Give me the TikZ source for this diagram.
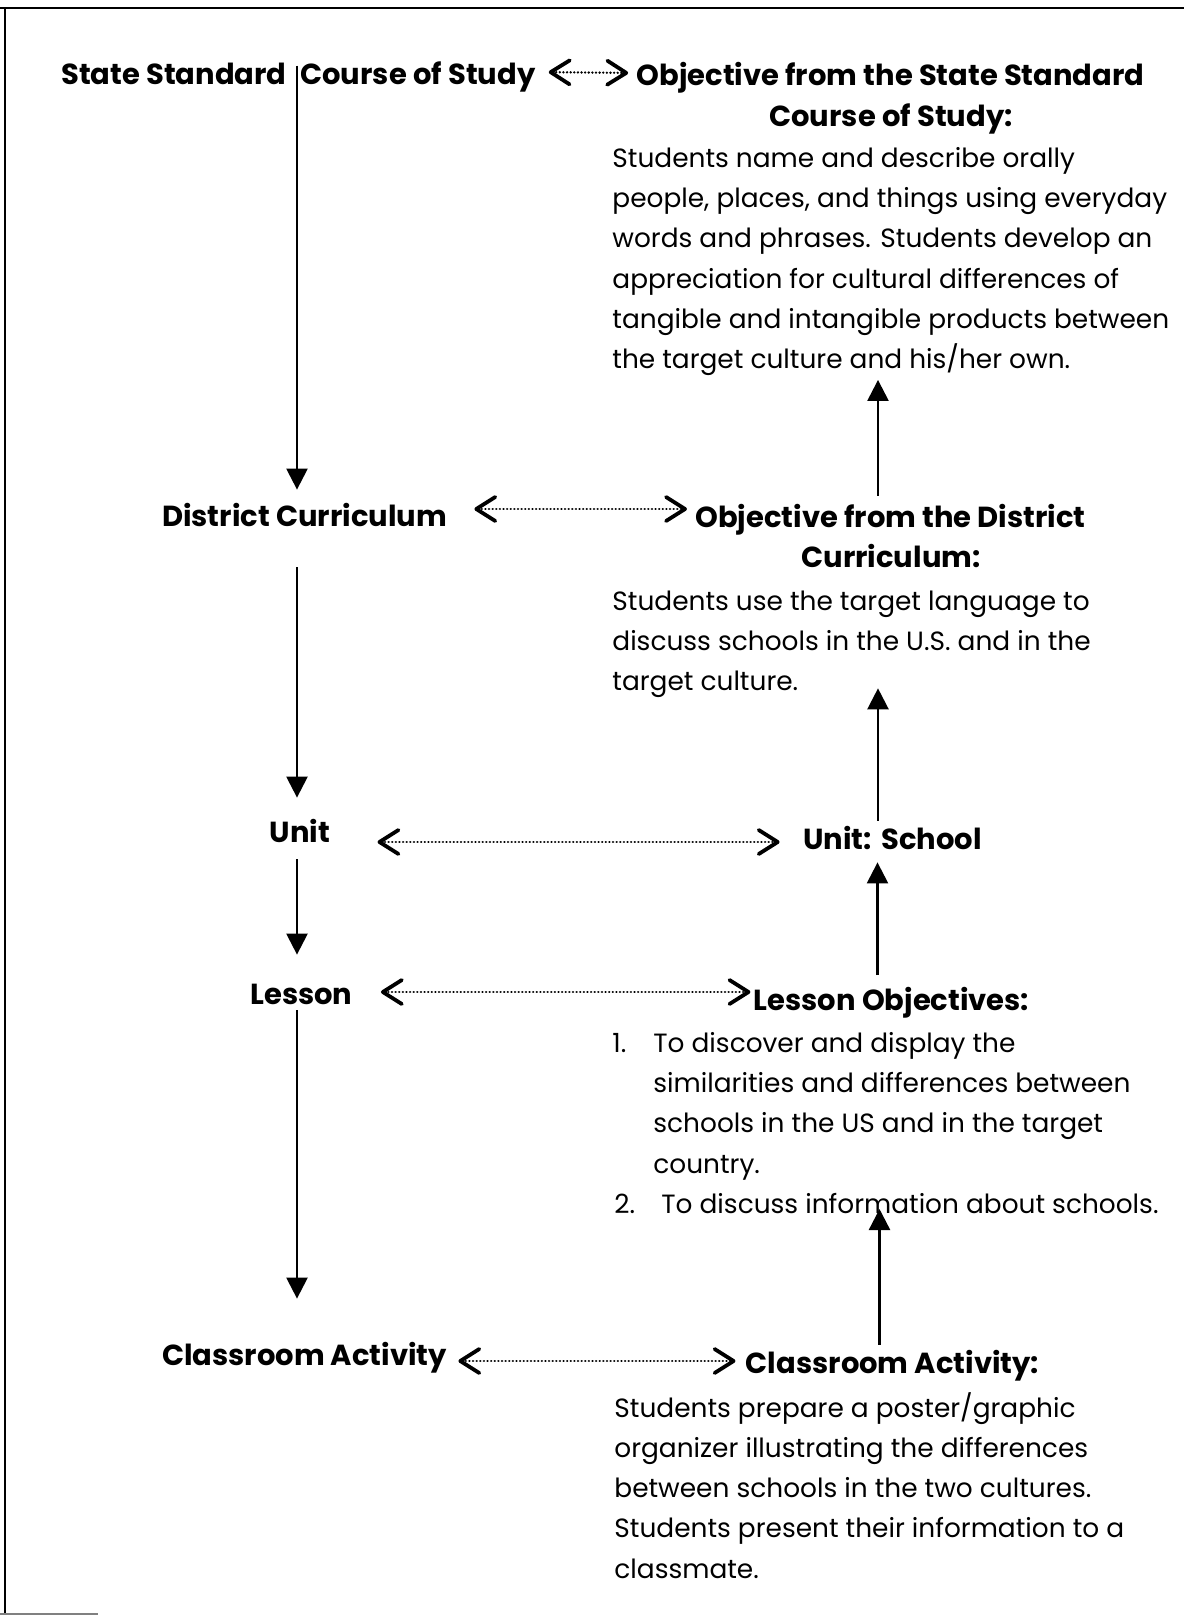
\documentclass[tikz,border=0pt]{standalone}
\usepackage{fontspec}
\setmainfont{Poppins}
\usetikzlibrary{arrows.meta}
% strut that fixes the top of the first line of a text block
\newcommand\fl{\rule{0pt}{11pt}}
\begin{document}
\begin{tikzpicture}[x=0.5pt,y=-0.5pt,
  lbl/.style={inner sep=0pt, text height=13pt, text depth=1pt,
    font=\fontsize{14.5}{17}\selectfont\bfseries},
  body/.style={inner sep=0pt, anchor=north west, align=left,
    font=\fontsize{13.2}{20.1}\selectfont},
  flow/.style={line width=1.2pt, -{Triangle[length=10.5pt,width=10.5pt]}},
  barb/.tip={Straight Barb[length=9.5pt,width=12pt,line width=1.9pt,round]},
  link/.style={line width=1.3pt, dash pattern=on 0.01pt off 1.8pt, line cap=round,
    barb-barb}]
\useasboundingbox (0,0) rectangle (1184,1618);

% frame
\draw[line width=1.4pt] (0,8) -- (1184,8);
\draw[line width=1.3pt] (5,7) -- (5,1613);
\draw[gray, line width=1pt] (0,1614) -- (98,1614);

% axis coordinates for the vertical arrows
\coordinate (spine) at (297,0);
\coordinate (rx) at (878,0);

% left column
\node[lbl, anchor=base east] (ssc1) at (287,84) {State Standard};
\node[lbl, anchor=base west] (ssc2) at (300,84) {Course of Study};
\node[lbl, anchor=base] (dc) at (304.5,526) {District Curriculum};
\node[lbl, anchor=base] (unit) at (300,842) {Unit};
\node[lbl, anchor=base] (lesson) at (301.5,1004) {Lesson};
\node[lbl, anchor=base] (ca) at (304.5,1365) {Classroom Activity};

% right column
\node[lbl, anchor=base] (h1a) at (890.5,85) {Objective from the State Standard};
\node[lbl, anchor=base] (h1b) at (891,126) {Course of Study:};
\node[body] (b1) at (612,145) {\fl Students name and describe orally\\
people, places, and things using everyday\\
words and phrases. Students develop an\\
appreciation for cultural differences of\\
tangible and intangible products between\\
the target culture and his/her own.};

\node[lbl, anchor=base] (h2a) at (890.5,527) {Objective from the District};
\node[lbl, anchor=base] (h2b) at (891,567) {Curriculum:};
\node[body] (b2) at (612,588) {\fl Students use the target language to\\
discuss schools in the U.S. and in the\\
target culture.};

\node[lbl, anchor=base] (us) at (892.5,849) {Unit:\hspace{5pt}School};

\node[lbl, anchor=base] (lo) at (891.5,1010) {Lesson Objectives:};
\node[body, anchor=base west] (n1) at (612,1052) {1.};
\node[body] (i1) at (653,1030) {\fl To discover and display the\\
similarities and differences between\\
schools in the US and in the target\\
country.};
\node[body, anchor=base west] (n2) at (614,1213) {2.};
\node[body, anchor=base west] (i2) at (661,1213) {To discuss information about schools.};

\node[lbl, anchor=base] (cah) at (892.5,1373) {Classroom Activity:};
\node[body] (b5) at (614,1392) {\fl Students prepare a poster/graphic\\
organizer illustrating the differences\\
between schools in the two cultures.\\
Students present their information to a\\
classmate.};

% downward chain on the left
\draw[flow, shorten <=4pt, shorten >=5pt] (ssc2.north -| spine) -- (dc.north -| spine);
\draw[flow, shorten <=19.5pt, shorten >=9pt] (dc.south -| spine) -- (unit.north -| spine);
\draw[flow, shorten <=7.5pt, shorten >=11.5pt] (unit.south -| spine) -- (lesson.north -| spine);
\draw[flow, shorten <=2pt, shorten >=20pt] (lesson.south -| spine) -- (ca.north -| spine);

% upward chain on the right
\draw[flow, shorten <=2.5pt, shorten >=2pt] (h2a.north -| rx) -- (b1.south -| rx);
\draw[flow, shorten <=1pt, shorten >=-5pt] (us.north -| rx) -- (b2.south -| rx);
\draw[flow, shorten <=4.25pt, shorten >=5.5pt] ([xshift=-0.25pt]lo.north -| rx) -- ([xshift=-0.25pt]us.south -| rx);
\draw[flow, shorten <=1pt, shorten >=-2pt] ([xshift=0.75pt]cah.north -| rx) -- ([xshift=0.75pt]i2.base -| rx);

% dotted two-way links
\draw[link, shorten <=6.5pt, shorten >=4pt] (ssc2.east) -- (h1a.west);
\draw[link, shorten <=13.5pt, shorten >=4pt] ([yshift=2.5pt]dc.east) -- ([yshift=2.5pt]dc.east -| h2a.west);
\draw[link, shorten <=23.5pt, shorten >=11.5pt] ([yshift=-2.5pt]unit.east |- us.west) -- ([yshift=-2.5pt]us.west);
\draw[link, shorten <=14pt, shorten >=1.5pt] (lesson.east) -- (lesson.east -| lo.west);
\draw[link, shorten <=5.5pt, shorten >=5pt] (ca.east |- cah.west) -- (cah.west);
\end{tikzpicture}
\end{document}
